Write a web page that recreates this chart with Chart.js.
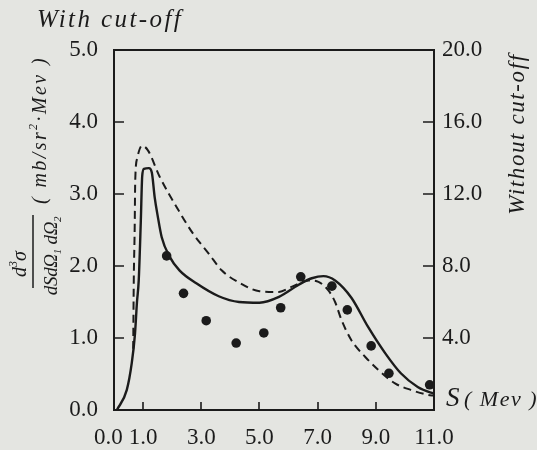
<!DOCTYPE html>
<html>
<head>
<meta charset="utf-8">
<script src="https://cdn.jsdelivr.net/npm/chart.js@4/dist/chart.umd.min.js"></script>
<style>
  html, body { margin: 0; padding: 0; background: #e4e5e1; }
  canvas { display: block; }
</style>
</head>
<body>
<canvas id="c" width="537" height="450"></canvas>
<script>
// Energy S (Mev) and cross section with cut-off (left scale, mb/sr²·Mev)
const cutS     = [0.1, 0.44, 0.61, 0.72, 0.79, 0.85, 0.92, 0.97, 1.03, 1.2, 1.3, 1.4, 1.5, 1.64, 1.91, 2.25, 2.83, 3.6, 4.3, 5.0, 5.67, 6.35, 6.8, 7.2, 7.6, 8.16, 8.74, 9.32, 9.86, 10.44, 10.9, 11.0];
const cutSigma = [0.0, 0.28, 0.65, 1.05, 1.5, 1.8, 2.6, 3.25, 3.35, 3.36, 3.3, 2.95, 2.7, 2.4, 2.13, 1.94, 1.76, 1.58, 1.5, 1.49, 1.57, 1.74, 1.83, 1.86, 1.8, 1.56, 1.15, 0.79, 0.51, 0.32, 0.24, 0.23];

// Cross section without cut-off (right scale)
const freeS     = [0.66, 0.68, 0.71, 0.73, 0.8, 0.96, 1.16, 1.57, 2.15, 2.7, 3.28, 3.7, 4.3, 5.0, 5.67, 6.1, 6.7, 7.03, 7.37, 7.6, 7.82, 8.16, 8.63, 9.08, 9.66, 10.2, 10.8, 11.0];
const freeSigma = [3.4, 7.2, 10.0, 12.76, 14.0, 14.68, 14.44, 12.96, 11.28, 9.84, 8.64, 7.76, 7.08, 6.6, 6.56, 6.84, 7.2, 7.12, 6.64, 6.0, 5.0, 3.88, 2.96, 2.24, 1.48, 1.12, 0.84, 0.8];

// Measured points (left scale)
const expS     = [1.81, 2.39, 3.17, 4.2, 5.15, 5.73, 6.42, 7.49, 8.02, 8.84, 9.45, 10.85];
const expSigma = [2.14, 1.62, 1.24, 0.93, 1.07, 1.42, 1.85, 1.72, 1.39, 0.89, 0.51, 0.35];

// Axis ticks
const xTickValues  = [0, 1, 3, 5, 7, 9, 11];
const xTickLabels  = ['0.0\u00a0\u00a0', '1.0', '3.0', '5.0', '7.0', '9.0', '11.0'];
const xTickMarks   = [1, 3, 5, 7, 9];
const yTickValues  = [0, 1, 2, 3, 4, 5];
const yTickLabels  = ['0.0', '1.0', '2.0', '3.0', '4.0', '5.0'];
const yTickMarks   = [1, 2, 3, 4];
const y2TickValues = [4, 8, 12, 16, 20];
const y2TickLabels = ['4.0', '8.0', '12.0', '16.0', '20.0'];
const y2TickMarks  = [4, 8, 12, 16];

const INK = '#1b1b1b';
const PAPER = '#e4e5e1';
const SERIF = '"Liberation Serif", "DejaVu Serif", serif';

function pairs(xs, ys) { return xs.map((x, i) => ({ x: x, y: ys[i] })); }

// Draws a run of text pieces (with super/subscripts) centred on (cx, cy), rotated by angle
function richText(ctx, parts, cx, cy, angle, spacing) {
  ctx.save();
  ctx.translate(cx, cy);
  ctx.rotate(angle);
  ctx.fillStyle = INK;
  ctx.textAlign = 'left';
  ctx.textBaseline = 'alphabetic';
  if ('letterSpacing' in ctx) ctx.letterSpacing = (spacing || 0) + 'px';
  let total = 0;
  parts.forEach(p => { ctx.font = p.font; total += ctx.measureText(p.text).width + (p.gap || 0); });
  let x = -total / 2;
  parts.forEach(p => {
    ctx.font = p.font;
    ctx.fillText(p.text, x, 7 + (p.dy || 0));
    x += ctx.measureText(p.text).width + (p.gap || 0);
  });
  ctx.restore();
}

const it = s => 'italic ' + s + 'px ' + SERIF;

const framePlugin = {
  id: 'frame',
  beforeDraw(chart) {
    const ctx = chart.ctx;
    ctx.save();
    ctx.fillStyle = PAPER;
    ctx.fillRect(0, 0, chart.width, chart.height);
    ctx.restore();
  },
  beforeDatasetsDraw(chart) {
    const { ctx, chartArea: a, scales } = chart;
    ctx.save();
    ctx.strokeStyle = INK;
    ctx.lineWidth = 2;
    ctx.strokeRect(a.left, a.top, a.right - a.left, a.bottom - a.top);
    ctx.lineWidth = 1.6;
    ctx.beginPath();
    yTickMarks.forEach(v => {
      const y = Math.round(scales.y.getPixelForValue(v));
      ctx.moveTo(a.left, y); ctx.lineTo(a.left + 10, y);
    });
    y2TickMarks.forEach(v => {
      const y = Math.round(scales.y2.getPixelForValue(v));
      ctx.moveTo(a.right, y); ctx.lineTo(a.right - 11, y);
    });
    xTickMarks.forEach(v => {
      const x = Math.round(scales.x.getPixelForValue(v));
      ctx.moveTo(x, a.bottom); ctx.lineTo(x, a.bottom - 8);
    });
    ctx.stroke();
    ctx.restore();
  },
  afterDraw(chart) {
    const ctx = chart.ctx;
    const up = -Math.PI / 2;
    // Heading of the left scale
    richText(ctx, [{ text: 'With cut-off', font: it(25) }], 110, 20, 0, 2.4);
    // Heading of the right scale
    richText(ctx, [{ text: 'Without cut-off', font: it(23) }], 517, 134, up, 1.6);
    // Horizontal axis name
    richText(ctx, [
      { text: 'S', font: it(27), gap: 3 },
      { text: '( Mev )', font: it(22) }
    ], 492, 399, 0, 1.5);
    // Vertical axis name: fraction and units
    richText(ctx, [
      { text: 'd', font: it(20) },
      { text: '3', font: it(12), dy: -9 },
      { text: 'σ', font: it(20) }
    ], 19, 264, up, 0);
    ctx.save();
    ctx.strokeStyle = INK; ctx.lineWidth = 1.5;
    ctx.beginPath(); ctx.moveTo(33, 215); ctx.lineTo(33, 288); ctx.stroke();
    ctx.restore();
    richText(ctx, [
      { text: 'dSd', font: it(19) },
      { text: 'Ω', font: it(19) },
      { text: '1', font: it(11), dy: 4 },
      { text: ' d', font: it(19) },
      { text: 'Ω', font: it(19) },
      { text: '2', font: it(11), dy: 4 }
    ], 50, 256, up, -0.3);
    richText(ctx, [
      { text: '( mb/sr', font: it(20) },
      { text: '2', font: it(12), dy: -9 },
      { text: '·Mev )', font: it(20) }
    ], 39, 130, up, 2.4);
  }
};

const tickFont = { family: SERIF, size: 23 };

new Chart(document.getElementById('c'), {
  type: 'line',
  data: {
    datasets: [
      {
        label: 'With cut-off',
        data: pairs(cutS, cutSigma),
        yAxisID: 'y',
        borderColor: INK,
        borderWidth: 2.4,
        pointRadius: 0,
        fill: false,
        cubicInterpolationMode: 'monotone'
      },
      {
        label: 'Without cut-off',
        data: pairs(freeS, freeSigma),
        yAxisID: 'y2',
        borderColor: INK,
        borderWidth: 2,
        borderDash: [8, 5],
        pointRadius: 0,
        fill: false,
        cubicInterpolationMode: 'monotone'
      },
      {
        label: 'Experiment',
        data: pairs(expS, expSigma),
        yAxisID: 'y',
        showLine: false,
        pointRadius: 4.8,
        pointBackgroundColor: INK,
        pointBorderColor: INK,
        pointBorderWidth: 0
      }
    ]
  },
  options: {
    responsive: false,
    animation: false,
    devicePixelRatio: 1,
    layout: { padding: { top: 50, left: 0, right: 0, bottom: 0 } },
    plugins: { legend: { display: false }, tooltip: { enabled: false } },
    elements: { line: { tension: 0.4 } },
    scales: {
      x: {
        type: 'linear', min: 0, max: 11,
        afterBuildTicks: s => { s.ticks = xTickValues.map(v => ({ value: v })); },
        afterFit: s => { s.height = 40; },
        grid: { display: false, drawTicks: false },
        border: { display: false },
        ticks: {
          autoSkip: false, maxRotation: 0, font: tickFont, color: INK, padding: 14,
          callback: v => xTickLabels[xTickValues.indexOf(v)]
        }
      },
      y: {
        type: 'linear', position: 'left', min: 0, max: 5,
        afterBuildTicks: s => { s.ticks = yTickValues.map(v => ({ value: v })); },
        afterFit: s => { s.width = 114; },
        grid: { display: false, drawTicks: false },
        border: { display: false },
        ticks: {
          autoSkip: false, font: tickFont, color: INK, padding: 16,
          callback: v => yTickLabels[yTickValues.indexOf(v)]
        }
      },
      y2: {
        type: 'linear', position: 'right', min: 0, max: 20,
        afterBuildTicks: s => { s.ticks = y2TickValues.map(v => ({ value: v })); },
        afterFit: s => { s.width = 103; },
        grid: { display: false, drawTicks: false },
        border: { display: false },
        ticks: {
          autoSkip: false, font: tickFont, color: INK, padding: 8,
          callback: v => y2TickLabels[y2TickValues.indexOf(v)]
        }
      }
    }
  },
  plugins: [framePlugin]
});
</script>
</body>
</html>
